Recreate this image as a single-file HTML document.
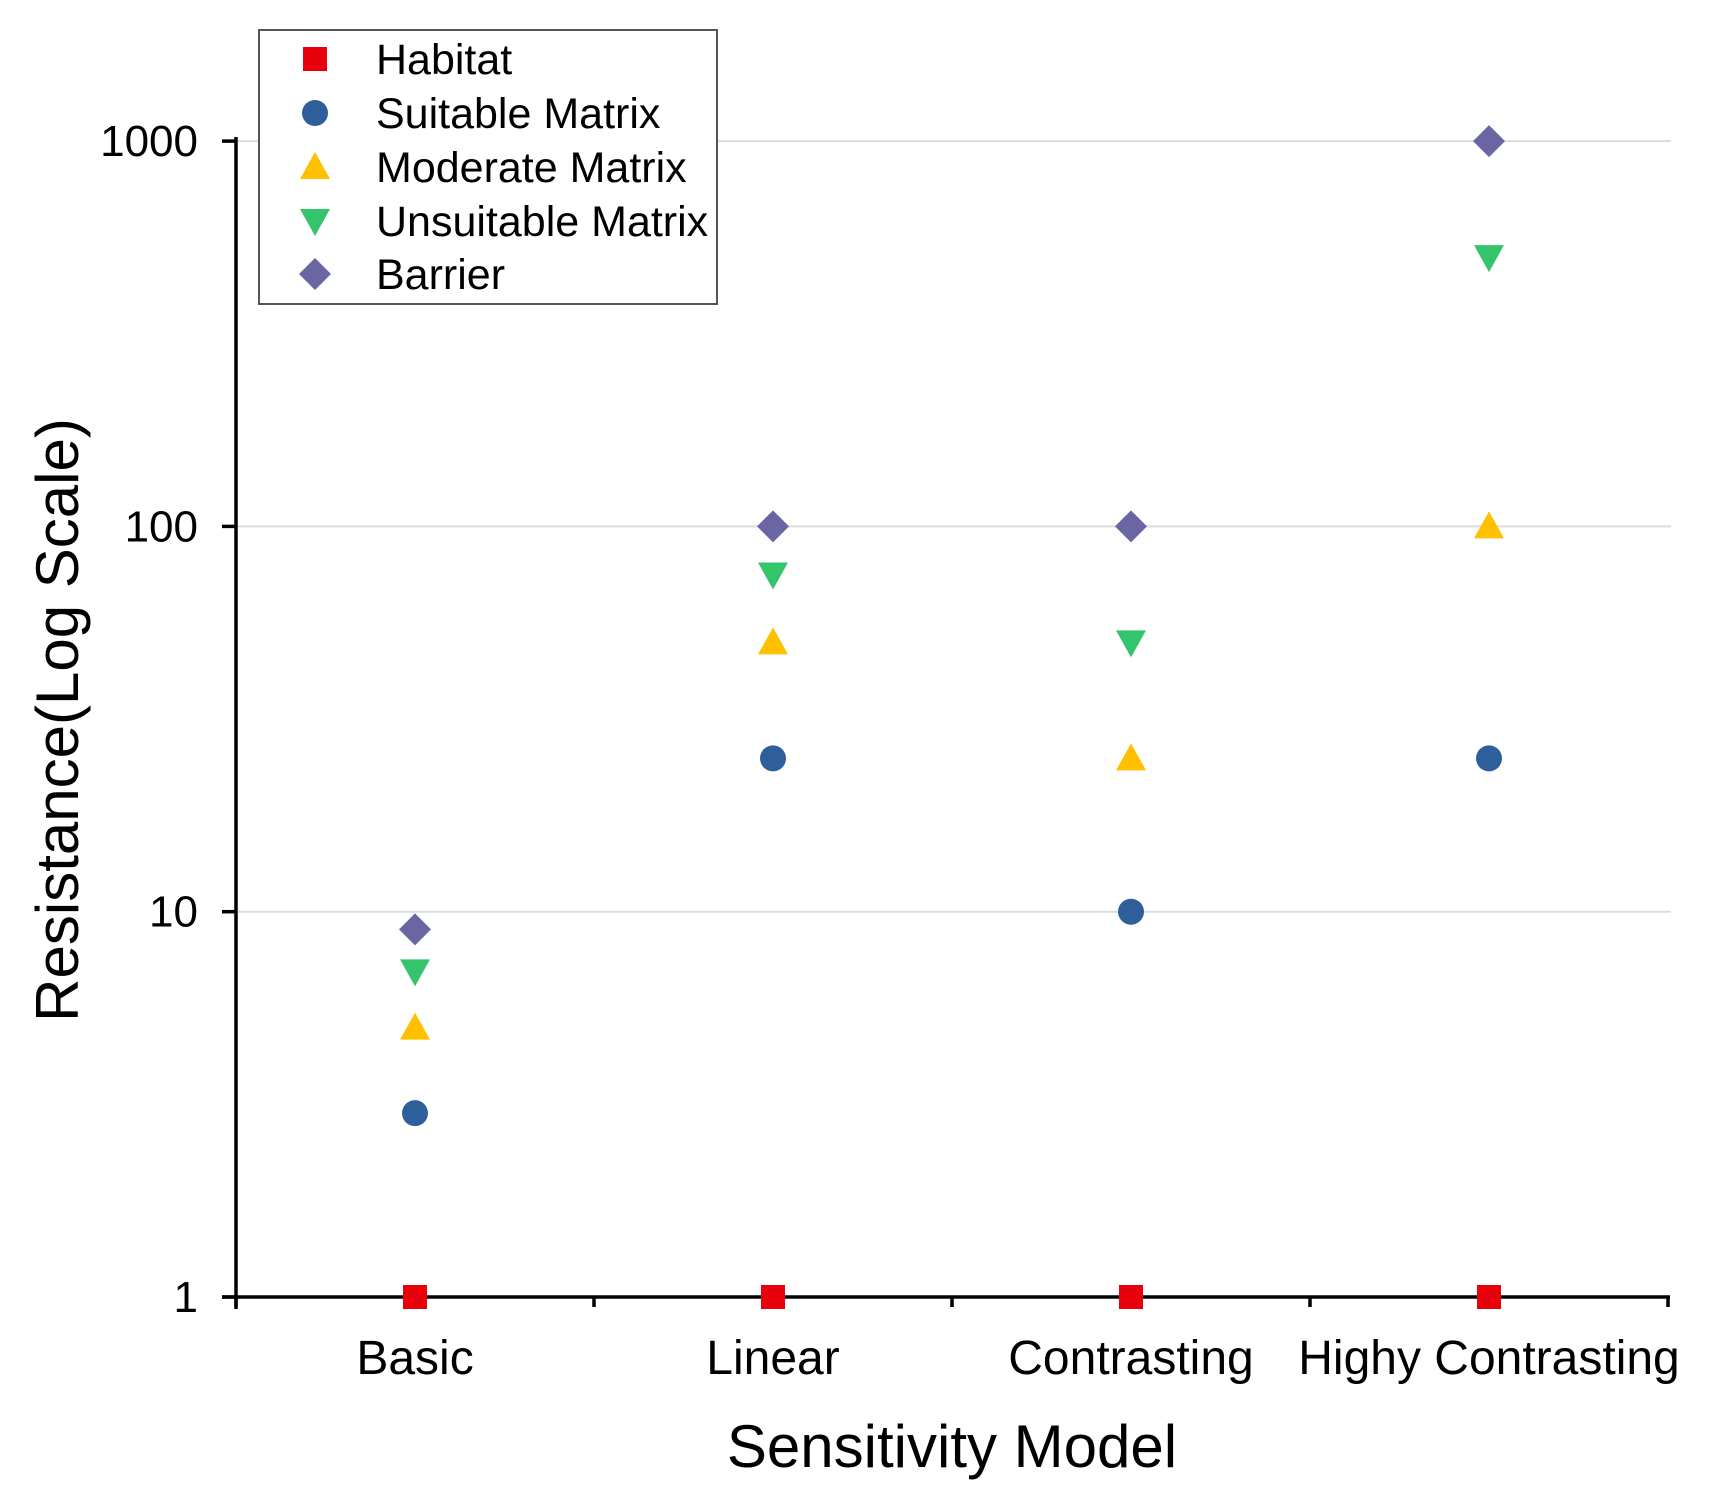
<!DOCTYPE html>
<html><head><meta charset="utf-8"><style>
html,body{margin:0;padding:0;background:#fff;}
svg{display:block;font-family:"Liberation Sans",Arial,sans-serif;}
</style></head><body>
<svg id="chart" width="1712" height="1502" viewBox="0 0 1712 1502" xmlns="http://www.w3.org/2000/svg">
<g id="grid"></g>
<g id="axes"></g>
<g id="marks"></g>
<text x="952" y="1467" font-size="60" text-anchor="middle" fill="#000">Sensitivity Model</text>
<text transform="translate(78,720) rotate(-90)" font-size="60" text-anchor="middle" fill="#000">Resistance(Log Scale)</text>
<g id="legend"></g>
</svg>
<script>
const categories = ["Basic","Linear","Contrasting","Highy Contrasting"];
const habitat = [1,1,1,1];
const suitable = [3,25,10,25];
const moderate = [5,50,25,100];
const unsuitable = [7,75,50,500];
const barrier = [9,100,100,1000];
const yTicks = [1,10,100,1000];
const yTickLabels = ["1","10","100","1000"];
const seriesNames = ["Habitat","Suitable Matrix","Moderate Matrix","Unsuitable Matrix","Barrier"];

const NS="http://www.w3.org/2000/svg";
const X0=236, X1=1668, Y1=1297, Ydec=385.3;
function xPos(i){return X0+(X1-X0)*(i+0.5)/categories.length;}
function yPos(v){return Y1-Math.log10(v)*Ydec;}
function mk(tag,attrs,parent){const e=document.createElementNS(NS,tag);for(const k in attrs)e.setAttribute(k,attrs[k]);parent.appendChild(e);return e;}
const grid=document.getElementById('grid'),axes=document.getElementById('axes'),marks=document.getElementById('marks'),legend=document.getElementById('legend');

yTicks.forEach((t,i)=>{
  if(t>1){const g=mk('line',{x1:X0,x2:1671,y1:yPos(t),y2:yPos(t),stroke:'#dcdcdc','stroke-width':2},grid);
  
  }
  const tk=mk('line',{x1:X0-14,x2:X0,y1:yPos(t),y2:yPos(t),stroke:'#000','stroke-width':3.5},axes);
  
  
  const lb=mk('text',{x:X0-38,y:yPos(t)+15,'font-size':44,'text-anchor':'end',fill:'#000'},axes);
  lb.textContent=yTickLabels[i];
  
  
});
const ya=mk('line',{x1:X0,x2:X0,y1:137,y2:Y1+12,stroke:'#000','stroke-width':3.5},axes);


const xa=mk('line',{x1:X0-14,x2:X1+2,y1:Y1,y2:Y1,stroke:'#000','stroke-width':3.5},axes);


for(let i=0;i<=categories.length;i++){
  const x=X0+(X1-X0)*i/categories.length;
  const t=mk('line',{x1:x,x2:x,y1:Y1,y2:Y1+10,stroke:'#000','stroke-width':3.5},axes);
  
  
}
categories.forEach((c,i)=>{
  const t=mk('line',{x1:xPos(i),x2:xPos(i),y1:Y1,y2:Y1+10,stroke:'#000','stroke-width':3.5},axes);
  
  
  const l=mk('text',{x:xPos(i),y:1374,'font-size':48,'text-anchor':'middle',fill:'#000'},axes);
  l.textContent=c;
  
  
});

const colors=['#e8000b','#2e5f9a','#ffc000','#33c46c','#6a66a3'];
function marker(type,x,y,parent){
  let e;
  if(type===0) e=mk('rect',{x:x-12,y:y-12,width:24,height:24,fill:colors[0]},parent);
  else if(type===1) e=mk('circle',{cx:x,cy:y,r:13,fill:colors[1]},parent);
  else if(type===2) e=mk('polygon',{points:`${x},${y-15} ${x-15},${y+12} ${x+15},${y+12}`,fill:colors[2]},parent);
  else if(type===3) e=mk('polygon',{points:`${x},${y+15} ${x-15},${y-12} ${x+15},${y-12}`,fill:colors[3]},parent);
  else e=mk('polygon',{points:`${x},${y-16} ${x+16},${y} ${x},${y+16} ${x-16},${y}`,fill:colors[4]},parent);
  return e;
}
const allSeries=[habitat,suitable,moderate,unsuitable,barrier];
allSeries.forEach((s,si)=>{
  s.forEach((v,i)=>{
    const m=marker(si,xPos(i),yPos(v),marks);
    
    
  });
});

const box=mk('rect',{x:259,y:30,width:458,height:274,fill:'#fff',stroke:'#555','stroke-width':2},legend);


const rows=[59,113,167,221,274];
seriesNames.forEach((n,i)=>{
  const g=mk('g',{},legend);
  
  
  marker(i,315,rows[i],g);
  const t=mk('text',{x:376,y:rows[i]+15,'font-size':43,fill:'#000'},g);
  t.textContent=n;
});
</script>
</body></html>
